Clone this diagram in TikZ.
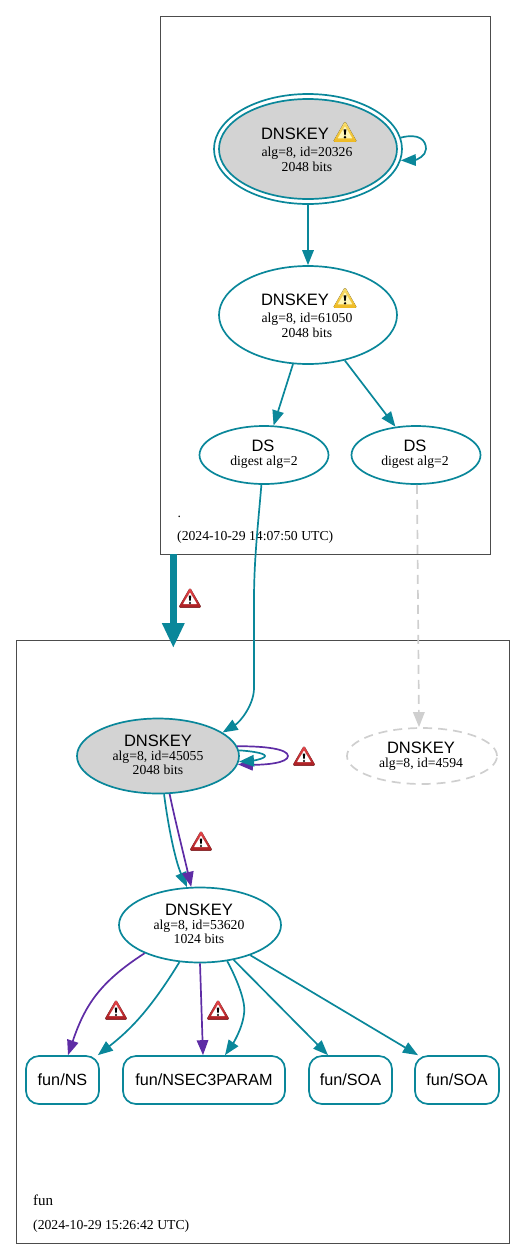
\documentclass[tikz,border=0pt]{standalone}
\usepackage{fontspec}
\setmainfont{Liberation Serif}
\newfontfamily\labelsans{Liberation Sans}
\usepackage{xcolor}
\usetikzlibrary{arrows.meta}
\usetikzlibrary{shapes.geometric}
\definecolor{dnsteal}{HTML}{0A879A}
\definecolor{dnspurple}{HTML}{5E2CA5}
\definecolor{dnsgray}{HTML}{D3D3D3}
\definecolor{dnsedge}{HTML}{CFCFCF}
\definecolor{warnredtop}{HTML}{E8484C}
\definecolor{warnredlow}{HTML}{A81E22}
\definecolor{warnyellowtop}{HTML}{F8DE70}
\definecolor{warnyellowlow}{HTML}{EDB820}
\definecolor{warnyellowin}{HTML}{FFF8B8}
\tikzset{
	zonebox/.style={draw=black!70,line width=0.8pt,inner sep=0pt},
	keynode/.style={ellipse,draw=dnsteal,line width=1.7pt,inner sep=0pt,align=center},
	signedkey/.style={keynode,fill=dnsgray},
	rrnode/.style={rectangle,rounded corners=13pt,draw=dnsteal,line width=1.7pt,inner sep=0pt},
	edgeteal/.style={draw=dnsteal,line width=1.7pt,-{Triangle[length=15pt,width=11.5pt]}},
	edgepurple/.style={edgeteal,draw=dnspurple},
	dashline/.style={dash pattern=on 9pt off 6pt},
	pics/warnicon/.style n args={3}{code={
		\fill[top color=#1,bottom color=#2,rounded corners=1.5pt] (0,-10.5) -- (11.5,9.5) -- (-11.5,9.5) -- cycle;
		\fill[#3,rounded corners=0.5pt] (0,-5.5) -- (7,6) -- (-7,6) -- cycle;
		\fill[black] (-1.3,-2.5) -- (1.3,-2.5) -- (0.6,3) -- (-0.6,3) -- cycle;
		\fill[black] (0,5) circle (1.2);
	}},
	pics/redwarn/.style={code={\pic {warnicon={warnredtop}{warnredlow}{white}};}},
	pics/yellowwarn/.style={code={\pic[scale=1.05] {warnicon={warnyellowtop}{warnyellowlow}{warnyellowin}};}},
	keyname/.style={font=\labelsans\fontsize{16.5}{18}\selectfont},
	rrname/.style={font=\labelsans\fontsize{16.2}{18}\selectfont},
	keydetail/.style={font=\fontsize{13.7}{14}\selectfont},
}
\begin{document}
\begin{tikzpicture}[x=1pt,y=-1pt]
		\useasboundingbox (0,0) rectangle (525,1259);
		
		% zone boxes
		\node[zonebox,minimum width=330pt,minimum height=538pt] (rootzone) at (325,285) {};
		\node[zonebox,minimum width=493pt,minimum height=603pt] (funzone) at (262.5,941.5) {};
		\node[anchor=west,keydetail] (rootname) at (174,517) {.};
		\node[anchor=west,keydetail,inner sep=0pt] (roottime) at (177,537) {(2024-10-29 14:07:50 UTC)};
		\node[anchor=west,font=\fontsize{15}{16}\selectfont,inner sep=0pt] (funname) at (33,1200) {fun};
		\node[anchor=west,keydetail,inner sep=0pt] (funtime) at (33,1226) {(2024-10-29 15:26:42 UTC)};
		
		% keys of the root zone
		\node[keynode,minimum width=188pt,minimum height=110pt] (rootkskouter) at (308,149) {};
		\node[signedkey,minimum width=178pt,minimum height=100pt] (rootksk) at (308,149) {};
		\node[keyname] (rootkskname) at (295,134) {DNSKEY};
		\node[keydetail] (rootkskinfo) at (307,153) {alg=8, id=20326};
		\node[keydetail] (rootkskbits) at (307,167) {2048 bits};
		\node[keynode,minimum width=178pt,minimum height=98pt] (rootzsk) at (308,315) {};
		\node[keyname] (rootzskname) at (295,300) {DNSKEY};
		\node[keydetail] (rootzskinfo) at (307,319) {alg=8, id=61050};
		\node[keydetail] (rootzskbits) at (307,333) {2048 bits};
		\node[keynode,minimum width=129pt,minimum height=58pt] (dsone) at (264,455) {};
		\node[keyname] (dsonename) at (263,446) {DS};
		\node[keydetail] (dsoneinfo) at (264,462) {digest alg=2};
		\node[keynode,minimum width=129pt,minimum height=58pt] (dstwo) at (416,455) {};
		\node[keyname] (dstwoname) at (415,446) {DS};
		\node[keydetail] (dstwoinfo) at (415,462) {digest alg=2};
		
		% keys of fun
		\node[signedkey,minimum width=162pt,minimum height=75pt] (funksk) at (158,756) {};
		\node[keyname] (funkskname) at (158,741) {DNSKEY};
		\node[keydetail] (funkskinfo) at (158,757) {alg=8, id=45055};
		\node[keydetail] (funkskbits) at (158,770) {2048 bits};
		\node[keynode,draw=dnsedge,dashline,minimum width=150pt,minimum height=56pt] (funold) at (422,756) {};
		\node[keyname] (funoldname) at (421,748) {DNSKEY};
		\node[keydetail] (funoldinfo) at (421,764) {alg=8, id=4594};
		\node[keynode,minimum width=162pt,minimum height=75pt] (funzsk) at (200,925) {};
		\node[keyname] (funzskname) at (199,910) {DNSKEY};
		\node[keydetail] (funzskinfo) at (199,926) {alg=8, id=53620};
		\node[keydetail] (funzskbits) at (199,939) {1024 bits};
		
		% rrsets
		\node[rrnode,minimum width=73pt,minimum height=48pt,rrname] (rrns) at (62.5,1080) {fun/NS};
		\node[rrnode,minimum width=162pt,minimum height=48pt,rrname] (rrparam) at (204,1080) {fun/NSEC3PARAM};
		\node[rrnode,minimum width=83pt,minimum height=48pt,rrname] (rrsoaone) at (350.5,1080) {fun/SOA};
		\node[rrnode,minimum width=84pt,minimum height=48pt,rrname] (rrsoatwo) at (457,1080) {fun/SOA};
		
		% edges in the root zone
		\draw[edgeteal] (rootkskouter.7.5) .. controls (419,133) and (426,140) .. (426,149) .. controls (426,156) and (416,160) .. (rootkskouter.-7.5);
		\draw[edgeteal] (rootkskouter) -- (rootzsk);
		\draw[edgeteal] (rootzsk.-107.7) -- (dsone.72.2);
		\draw[edgeteal] (rootzsk.-51.5) -- (dstwo.126.5);
		
		% delegation
		\coordinate (delegstart) at (173.3,554);
		\coordinate (delegend) at (173.3,648);
		\draw[draw=dnsteal,line width=7pt,-{Triangle[length=25pt,width=21pt]}] (delegstart) -- (delegend);
		\draw[edgeteal] (dsone.-95) .. controls (258,525) and (254,560) .. (254,600) -- (254,688) .. controls (254,705) and (240,722) .. (funksk.20);
		\draw[edgeteal,draw=dnsedge,dashline] ([xshift=1pt]dstwo.south) -- ([xshift=-3pt]funold.north);
		
		% edges in fun
		\draw[edgepurple] (funksk.7) .. controls (265,746) and (288,749) .. (288,756) .. controls (288,763) and (265,765) .. (funksk.-6.5);
		\draw[edgeteal] (funksk.4) .. controls (250,751) and (265,753) .. (265,756) .. controls (265,759) and (250,761) .. (funksk.-4);
		\draw[edgeteal] (funksk.-81) .. controls (168,825) and (175,860) .. (funzsk.109.4);
		\draw[edgepurple] (funksk.-73.5) .. controls (175,820) and (185,860) .. (funzsk.103.7);
		\draw[edgepurple] (funzsk.-153) .. controls (100,982) and (85,1005) .. ([xshift=5.5pt]rrns.north);
		\draw[edgeteal] (funzsk.-119) .. controls (150,1010) and (130,1030) .. ([xshift=-2pt]rrns.north east);
		\draw[edgepurple] (funzsk.south) -- ([xshift=-1pt]rrparam.north);
		\draw[edgeteal] (funzsk.-53) .. controls (240,985) and (246,1005) .. (244,1014) .. controls (242,1030) and (232,1045) .. ([xshift=21pt]rrparam.north);
		\draw[edgeteal] (funzsk.-46) -- ([xshift=-22.5pt]rrsoaone.north);
		\draw[edgeteal] (funzsk.-31) -- ([xshift=-39pt]rrsoatwo.north);
		
		% warning signs
		\pic at (345,132) {yellowwarn};
		\pic at (345,298) {yellowwarn};
		\pic at (190,598) {redwarn};
		\pic at (304,756) {redwarn};
		\pic at (201,841) {redwarn};
		\pic at (116,1010) {redwarn};
		\pic at (218,1010) {redwarn};
	\end{tikzpicture}
\end{document}
